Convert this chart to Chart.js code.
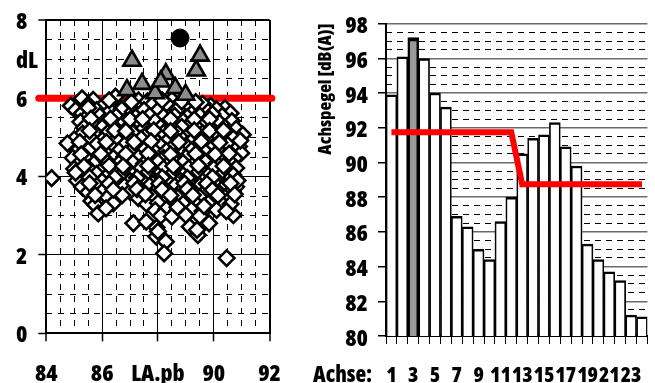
<!DOCTYPE html>
<html><head><meta charset="utf-8">
<script src="https://cdn.jsdelivr.net/npm/chart.js@4"></script>
<style>
html,body{margin:0;padding:0;width:655px;height:383px;overflow:hidden;background:#fff;}
#left{position:absolute;left:0;top:0;}
#right{position:absolute;left:310px;top:0;}
#achse{position:absolute;left:313px;top:362px;font-family:'Open Sans',sans-serif;font-stretch:condensed;font-weight:800;font-size:22px;line-height:22px;color:#000;}
</style></head>
<body>
<canvas id="left" width="300" height="383"></canvas>
<canvas id="right" width="351" height="383"></canvas>
<div id="achse">Achse:</div>
<script>
const FONT_FAMILY = "'Open Sans', sans-serif";
const FONT_WEIGHT = '800 condensed';

// ---- Left chart: dL vs LA.pb ----
const diamondPoints = [
[84.88,5.81],[85.28,6.00],[85.68,5.96],[86.48,6.04],[87.30,5.95],[87.62,5.92],[88.50,5.96],[89.89,5.81],[90.40,5.75],
[85.05,5.70],[85.50,5.84],[86.10,5.86],[86.90,5.82],[87.80,5.84],[88.30,5.86],[89.00,5.84],[89.60,5.86],[90.10,5.72],
[85.28,5.62],[85.80,5.70],[86.30,5.68],[86.70,5.72],[87.10,5.66],[87.50,5.70],[88.00,5.69],[88.70,5.72],[89.30,5.68],[89.80,5.66],[90.60,5.62],
[85.45,5.52],[85.92,5.55],[86.50,5.54],[87.20,5.52],[87.70,5.56],[88.20,5.53],[88.60,5.55],[89.05,5.52],[89.50,5.56],[90.00,5.50],[90.30,5.55],
[85.22,5.40],[85.70,5.38],[86.10,5.42],[86.80,5.40],[87.30,5.38],[87.90,5.41],[88.40,5.39],[88.90,5.42],[89.20,5.37],[89.70,5.40],[90.20,5.38],[90.65,5.42],
[85.35,5.25],[86.00,5.26],[86.40,5.23],[86.95,5.27],[87.50,5.24],[88.10,5.26],[88.55,5.22],[88.85,5.27],[89.40,5.25],[89.90,5.23],[90.40,5.26],[90.80,5.22],
[85.30,5.10],[85.80,5.08],[86.20,5.12],[86.60,5.09],[87.10,5.11],[87.60,5.08],[88.20,5.12],[88.70,5.10],[89.10,5.07],[89.60,5.11],[90.10,5.09],[90.50,5.12],[91.04,5.07],
[85.00,4.95],[85.60,4.97],[86.00,4.93],[86.50,4.96],[87.00,4.94],[87.40,4.97],[87.90,4.93],[88.40,4.96],[88.90,4.94],[89.30,4.97],[89.80,4.93],[90.30,4.95],[90.70,4.98],
[84.76,4.85],[85.30,4.80],[85.80,4.82],[86.30,4.78],[86.80,4.81],[87.20,4.79],[87.70,4.82],[88.10,4.78],[88.60,4.81],[89.00,4.79],[89.50,4.82],[90.00,4.78],[90.50,4.81],[90.90,4.77],
[85.10,4.65],[85.50,4.67],[86.10,4.63],[86.60,4.66],[87.00,4.64],[87.50,4.67],[87.90,4.63],[88.30,4.66],[88.80,4.64],[89.20,4.67],[89.70,4.63],[90.20,4.66],[90.98,4.60],
[84.95,4.48],[85.40,4.50],[85.90,4.52],[86.40,4.48],[86.80,4.51],[87.30,4.49],[87.80,4.52],[88.20,4.48],[88.60,4.51],[89.00,4.49],[89.50,4.52],[89.90,4.48],[90.40,4.51],[90.75,4.47],
[85.20,4.35],[85.70,4.33],[86.20,4.37],[86.60,4.34],[87.10,4.36],[87.50,4.33],[88.00,4.37],[88.40,4.34],[88.90,4.36],[89.30,4.33],[89.70,4.37],[90.10,4.34],[90.60,4.36],
[85.00,4.20],[85.50,4.22],[86.00,4.18],[86.40,4.21],[86.90,4.19],[87.40,4.22],[87.80,4.18],[88.20,4.21],[88.70,4.19],[89.10,4.22],[89.60,4.18],[90.00,4.21],[90.50,4.19],[90.80,4.22],
[84.19,3.96],[85.30,4.05],[85.80,4.07],[86.20,4.03],[86.70,4.06],[87.10,4.04],[87.60,4.07],[88.00,4.03],[88.50,4.06],[88.90,4.04],[89.40,4.07],[89.80,4.03],[90.30,4.06],[90.70,4.04],
[85.10,3.90],[85.60,3.92],[86.00,3.88],[86.50,3.91],[87.00,3.89],[87.40,3.92],[87.90,3.88],[88.30,3.91],[88.80,3.89],[89.20,3.92],[89.60,3.88],[90.10,3.91],[90.50,3.89],
[85.28,3.74],[85.80,3.77],[86.30,3.73],[86.80,3.76],[87.20,3.74],[87.70,3.77],[88.10,3.73],[88.60,3.76],[89.00,3.74],[89.50,3.77],[89.90,3.73],[90.40,3.76],[90.80,3.74],
[85.50,3.60],[86.00,3.62],[86.50,3.58],[87.00,3.61],[87.50,3.59],[87.90,3.62],[88.40,3.58],[88.80,3.61],[89.30,3.59],[89.70,3.62],[90.20,3.58],[90.60,3.61],
[85.62,3.38],[86.20,3.47],[86.72,3.53],[87.30,3.45],[87.80,3.48],[88.20,3.44],[88.70,3.47],[89.10,3.45],[89.50,3.48],[90.00,3.44],[90.40,3.47],
[85.75,3.28],[86.40,3.32],[87.60,3.30],[88.00,3.33],[88.50,3.29],[88.90,3.31],[89.40,3.28],[89.80,3.32],[90.30,3.30],[90.70,3.02],
[85.86,3.06],[86.14,3.19],[87.90,3.14],[88.30,3.17],[88.70,3.13],[89.20,3.16],[89.60,3.12],[90.10,3.15],[90.60,3.30],
[88.10,3.00],[88.50,2.98],[89.00,3.02],[89.50,2.99],[89.83,2.81],[89.14,2.72],
[87.12,2.81],[87.58,2.85],[87.94,2.47],[88.28,2.34],[88.22,2.04],[89.43,2.51],[89.40,2.64],[90.46,1.92],[87.95,2.70],[88.00,2.60],
[85.50,5.76],[86.25,5.95],[87.05,5.90],[88.15,5.95],[88.85,5.92],[89.35,5.90],[89.95,5.60],
[85.60,5.48],[86.30,5.48],[87.00,5.46],[87.45,5.47],[88.45,5.47],[89.30,5.46],[89.85,5.47],
[85.55,5.17],[86.45,5.18],[86.85,5.16],[87.85,5.18],[88.45,5.16],[89.30,5.18],[89.85,5.17],[90.35,5.18],
[85.20,4.88],[86.15,4.88],[87.15,4.88],[87.75,4.90],[88.75,4.88],[89.55,4.90],[90.20,4.87],[90.95,4.92],
[85.25,4.57],[85.95,4.58],[86.85,4.58],[87.65,4.59],[88.45,4.57],[89.35,4.58],[90.05,4.57],[90.55,4.59],
[85.35,4.27],[86.25,4.28],[86.75,4.27],[87.65,4.28],[88.55,4.27],[89.45,4.28],[90.35,4.27],
[85.05,4.10],[85.55,3.98],[86.45,3.98],[87.25,3.97],[88.15,3.98],[89.05,3.97],[89.95,3.98],[90.85,3.90],
[85.55,3.83],[86.25,3.82],[87.15,3.83],[88.05,3.82],[88.95,3.83],[89.75,3.82],[90.60,3.83],
[85.75,3.53],[86.40,3.67],[87.25,3.68],[88.15,3.67],[89.05,3.68],[89.95,3.66],[90.75,3.55],
[87.55,3.55],[88.45,3.52],[89.25,3.53],[90.15,3.52],[88.70,3.22],[89.65,3.25],[90.45,3.12]
];
const trianglePoints = [[87.07,6.96],[87.43,6.37],[86.89,6.21],[87.90,6.13],[88.28,6.62],[88.10,6.43],[88.62,6.26],[88.99,6.09],[89.37,6.71],[89.51,7.09]];
const circlePoints = [[88.79,7.54]];
const thresholdX = [83.73, 92.08];
const thresholdY = [6, 6];
const leftXTicks = [84, 86, 88, 90, 92];
const leftXLabels = ['84', '86', 'LA.pb', '90', '92'];
const leftYTicks = [0, 2, 4, 6, 7, 8];
const leftYLabels = ['0', '2', '4', '6', 'dL', '8'];

// ---- Right chart: Achspegel per axle ----
const axles = ['1','2','3','4','5','6','7','8','9','10','11','12','13','14','15','16','17','18','19','20','21','22','23','24'];
const axleLevels = [93.9,96.1,97.2,96.0,94.0,93.2,86.9,86.3,85.0,84.4,86.6,88.0,90.5,91.4,91.6,92.3,90.9,89.8,85.3,84.4,83.7,83.2,81.2,81.1];
const limitLevels = [91.75,91.75,91.75,91.75,91.75,91.75,91.75,91.75,91.75,91.75,91.75,91.75,88.75,88.75,88.75,88.75,88.75,88.75,88.75,88.75,88.75,88.75,88.75,88.75];
const highlightAxle = '3';

const tickFont = {family: FONT_FAMILY, size: 23, weight: FONT_WEIGHT};
const axleFont = {family: FONT_FAMILY, size: 21, weight: FONT_WEIGHT};
const toXY = arr => arr.map(p => ({x: p[0], y: p[1]}));

new Chart(document.getElementById('left'), {
  type: 'scatter',
  data: {
    datasets: [
      {data: toXY(circlePoints), pointStyle: 'circle', pointRadius: 9, backgroundColor: '#000', borderColor: '#000', borderWidth: 1, order: 0},
      {data: toXY(trianglePoints), pointStyle: 'triangle', pointRadius: 10, backgroundColor: '#8c8c8c', borderColor: '#000', borderWidth: 2.6, order: 1},
      {data: toXY(diamondPoints), pointStyle: 'rectRot', pointRadius: 7.8, backgroundColor: '#fff', borderColor: '#000', borderWidth: 2.6, order: 2},
      {type: 'line', data: thresholdX.map((x, i) => ({x: x, y: thresholdY[i]})), borderColor: '#ff0000', borderWidth: 7, pointRadius: 0, borderCapStyle: 'round', clip: false, order: 3}
    ]
  },
  options: {
    responsive: false, animation: false, events: [],
    layout: {padding: {left: 16, top: 20, right: 22, bottom: 0}},
    plugins: {legend: {display: false}, tooltip: {enabled: false}},
    scales: {
      x: {
        type: 'linear', position: 'bottom', min: 84, max: 92,
        afterBuildTicks: s => { s.ticks = leftXTicks.map(v => ({value: v})); },
        afterFit: s => { s.height = 49.7; },
        ticks: {callback: v => leftXLabels[leftXTicks.indexOf(v)], font: tickFont, color: '#000', padding: 19, maxRotation: 0, autoSkip: false},
        grid: {color: '#000', lineWidth: c => (c.tick && (c.tick.value === 84 || c.tick.value === 92)) ? 2 : 1, tickLength: 8, tickColor: '#000', tickWidth: 1.5},
        border: {color: '#000', width: 2}
      },
      xMinor: {
        type: 'linear', position: 'bottom', min: 84, max: 92,
        afterFit: s => { s.height = 0; },
        ticks: {display: false, stepSize: 0.5},
        grid: {color: c => (c.tick && c.tick.value % 2 === 0) ? 'rgba(0,0,0,0)' : '#000', lineWidth: 1, drawTicks: false},
        border: {display: false, dash: [6, 6]}
      },
      y: {
        type: 'linear', position: 'left', min: 0, max: 8,
        afterBuildTicks: s => { s.ticks = leftYTicks.map(v => ({value: v})); },
        afterFit: s => { s.width = 30.3; },
        ticks: {callback: v => leftYLabels[leftYTicks.indexOf(v)], font: tickFont, color: '#000', crossAlign: 'far', labelOffset: 2, autoSkip: false},
        grid: {color: c => (c.tick && c.tick.value === 7) ? 'rgba(0,0,0,0)' : '#000', lineWidth: c => (c.tick && c.tick.value === 8) ? 2 : 1, tickLength: 8, tickColor: c => (c.tick && c.tick.value === 7) ? 'rgba(0,0,0,0)' : '#000', tickWidth: 1.5},
        border: {color: '#000', width: 2}
      },
      yMinor: {
        type: 'linear', position: 'left', min: 0, max: 8,
        afterFit: s => { s.width = 0; },
        ticks: {display: false, stepSize: 0.5},
        grid: {color: c => (c.tick && c.tick.value % 2 === 0) ? 'rgba(0,0,0,0)' : '#000', lineWidth: 1, drawTicks: false},
        border: {display: false, dash: [6, 6]}
      }
    }
  }
});

new Chart(document.getElementById('right'), {
  type: 'bar',
  data: {
    labels: axles,
    datasets: [
      {type: 'line', data: limitLevels, borderColor: '#ff0000', borderWidth: 6, pointRadius: 0, tension: 0, borderCapStyle: 'butt', order: 0},
      {type: 'bar', data: axleLevels,
       backgroundColor: axles.map(a => a === highlightAxle ? '#999999' : '#ffffff'),
       borderColor: '#000',
       borderWidth: c => axles[c.dataIndex] === highlightAxle ? {top: 4, left: 2.5, right: 2.5, bottom: 0} : {top: 2.5, left: 1.7, right: 1.7, bottom: 0},
       borderSkipped: 'start', barPercentage: 1, categoryPercentage: 1, order: 1}
    ]
  },
  options: {
    responsive: false, animation: false, events: [],
    layout: {padding: {left: 0, top: 21, right: 0, bottom: 0}},
    plugins: {legend: {display: false}, tooltip: {enabled: false}},
    scales: {
      x: {
        offset: true,
        afterFit: s => { s.height = 47; },
        ticks: {autoSkip: false, maxRotation: 0, callback: (v, i) => i % 2 === 0 ? axles[i] : '', font: axleFont, color: '#000', padding: 19},
        grid: {offset: true, drawOnChartArea: false, tickLength: 8, tickColor: '#000', tickWidth: 1},
        border: {color: '#000', width: 2}
      },
      y: {
        position: 'left', min: 80, max: 98,
        afterFit: s => { s.width = 76; },
        ticks: {stepSize: 2, font: tickFont, color: '#000', padding: 10, labelOffset: 3},
        grid: {color: '#6a6a6a', lineWidth: 1.5, tickLength: 8, tickColor: '#000', tickWidth: 1.5},
        border: {color: '#000', width: 2},
        title: {display: true, text: 'Achspegel [dB(A)]', align: 'end', color: '#000', font: {family: FONT_FAMILY, size: 18, weight: FONT_WEIGHT}, padding: {top: 5, bottom: 0}}
      },
      yMinor: {
        position: 'left', min: 80, max: 98,
        afterFit: s => { s.width = 0; },
        ticks: {display: false, stepSize: 0.5},
        grid: {color: c => (c.tick && c.tick.value % 2 === 0) ? 'rgba(0,0,0,0)' : '#000', lineWidth: 1, drawTicks: false},
        border: {display: false, dash: [6, 5]}
      }
    }
  }
});
</script>
</body></html>
